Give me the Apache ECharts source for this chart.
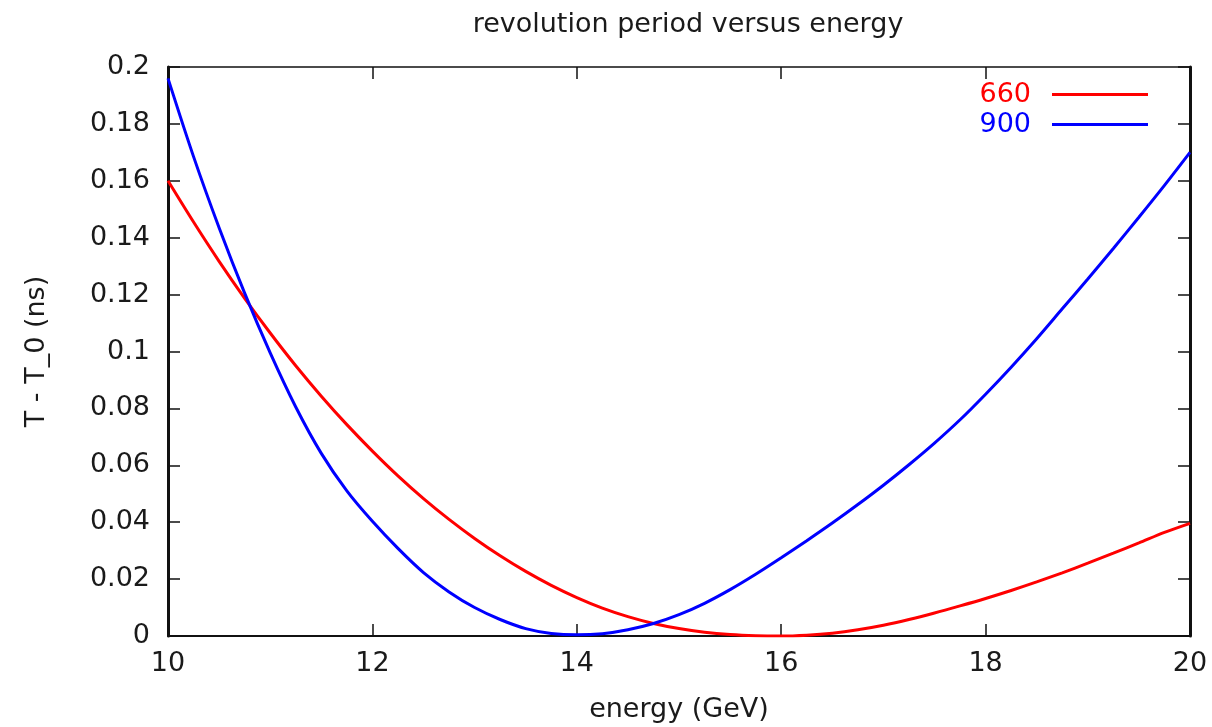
<!DOCTYPE html>
<html>
<head>
<meta charset="utf-8">
<script src="https://cdn.jsdelivr.net/npm/echarts@6/dist/echarts.min.js"></script>
<style>
html,body{margin:0;padding:0;background:#fff;}
#chart{width:1212px;height:727px;}
</style>
</head>
<body>
<div id="chart"></div>
<script>
const titleText = 'revolution period versus energy';
const xName = 'energy (GeV)';
const yName = 'T - T_0 (ns)';
const seriesNames = ['660', '900'];
const energy = [10, 10.25, 10.5, 10.75, 11, 11.25, 11.5, 11.75, 12, 12.25, 12.5, 12.75, 13, 13.25, 13.5, 13.75,
  14, 14.25, 14.5, 14.75, 15, 15.25, 15.5, 15.75, 16, 16.25, 16.5, 16.75, 17, 17.25, 17.5, 17.75,
  18, 18.25, 18.5, 18.75, 19, 19.25, 19.5, 19.75, 20];
const t660 = [0.1600, 0.1455, 0.1317, 0.1187, 0.1065, 0.0950, 0.0843, 0.0743, 0.0650, 0.0563, 0.0483, 0.0410, 0.0343, 0.0282, 0.0227, 0.0178,
  0.0135, 0.0098, 0.0068, 0.0044, 0.0026, 0.0013, 0.0005, 0.0001, 0.0000, 0.0003, 0.0010, 0.0022, 0.0038, 0.0058, 0.0081, 0.0106,
  0.0132, 0.0160, 0.0190, 0.0222, 0.0256, 0.0291, 0.0327, 0.0364, 0.0396];
const t900 = [0.1960, 0.1685, 0.1435, 0.1205, 0.0995, 0.0805, 0.0642, 0.0510, 0.0403, 0.0308, 0.0223, 0.0155, 0.0100, 0.0058, 0.0026, 0.0009,
  0.0004, 0.0008, 0.0022, 0.0044, 0.0075, 0.0115, 0.0163, 0.0217, 0.0275, 0.0335, 0.0397, 0.0462, 0.0530, 0.0602, 0.0678, 0.0760,
  0.0850, 0.0945, 0.1045, 0.1150, 0.1255, 0.1362, 0.1472, 0.1584, 0.1700];
const xTicks = {min: 10, max: 20, interval: 2};
const yTicks = {min: 0, max: 0.2, interval: 0.02};

const FONT = 'DejaVu Sans';
const TXT = '#1a1a1a';
const colors = ['#ff0000', '#0000ff'];

const chart = echarts.init(document.getElementById('chart'), null, {renderer: 'canvas'});

function pairs(xs, ys) { return xs.map((x, i) => [x, ys[i]]); }

const tickCommon = {show: true, inside: true, length: 12, lineStyle: {color: '#111', width: 1.5}};

const option = {
  backgroundColor: '#ffffff',
  animation: false,
  title: {
    text: titleText,
    left: 683,
    textAlign: 'center',
    top: 6,
    textStyle: {fontFamily: FONT, fontSize: 27, fontWeight: 'normal', color: TXT}
  },
  grid: {left: 168, right: 22, top: 67, bottom: 91, containLabel: false, outerBoundsMode: 'none'},
  legend: {
    orient: 'vertical',
    right: 64,
    top: 81,
    align: 'right',
    padding: 0,
    itemWidth: 96,
    itemHeight: 26,
    itemGap: 3,
    textStyle: {fontFamily: FONT, fontSize: 27, padding: [0, 16, 0, 0]},
    data: [
      {name: seriesNames[0], textStyle: {color: colors[0]}, icon: 'path://M0,0L96,0L96,3L0,3Z', itemStyle: {color: colors[0]}},
      {name: seriesNames[1], textStyle: {color: colors[1]}, icon: 'path://M0,0L96,0L96,3L0,3Z', itemStyle: {color: colors[1]}}
    ]
  },
  xAxis: [
    {
      type: 'value', position: 'bottom',
      min: xTicks.min, max: xTicks.max, interval: xTicks.interval,
      name: xName, nameLocation: 'middle', nameGap: 60,
      nameTextStyle: {fontFamily: FONT, fontSize: 27, color: TXT},
      axisLine: {show: true, onZero: false, lineStyle: {color: '#111', width: 2}},
      axisTick: tickCommon,
      axisLabel: {fontFamily: FONT, fontSize: 27, color: TXT, margin: 14},
      splitLine: {show: false}
    },
    {
      type: 'value', position: 'top',
      min: xTicks.min, max: xTicks.max, interval: xTicks.interval,
      axisLine: {show: true, onZero: false, lineStyle: {color: '#111', width: 1.5}},
      axisTick: tickCommon,
      axisLabel: {show: false},
      splitLine: {show: false}
    }
  ],
  yAxis: [
    {
      type: 'value', position: 'left',
      min: yTicks.min, max: yTicks.max, interval: yTicks.interval,
      name: yName, nameLocation: 'middle', nameGap: 118,
      nameTextStyle: {fontFamily: FONT, fontSize: 27, color: TXT},
      axisLine: {show: true, onZero: false, lineStyle: {color: '#111', width: 3}},
      axisTick: tickCommon,
      axisLabel: {fontFamily: FONT, fontSize: 27, color: TXT, margin: 18},
      splitLine: {show: false}
    },
    {
      type: 'value', position: 'right',
      min: yTicks.min, max: yTicks.max, interval: yTicks.interval,
      axisLine: {show: true, onZero: false, lineStyle: {color: '#111', width: 3}},
      axisTick: tickCommon,
      axisLabel: {show: false},
      splitLine: {show: false}
    }
  ],
  series: [
    {
      name: seriesNames[0], type: 'line', xAxisIndex: 0, yAxisIndex: 0,
      data: pairs(energy, t660), smooth: 0.3, symbol: 'none', clip: true,
      lineStyle: {color: colors[0], width: 3}, itemStyle: {color: colors[0]}, z: 3
    },
    {
      name: seriesNames[1], type: 'line', xAxisIndex: 0, yAxisIndex: 0,
      data: pairs(energy, t900), smooth: 0.3, symbol: 'none', clip: true,
      lineStyle: {color: colors[1], width: 3}, itemStyle: {color: colors[1]}, z: 4
    }
  ]
};
chart.setOption(option);
</script>
</body>
</html>
